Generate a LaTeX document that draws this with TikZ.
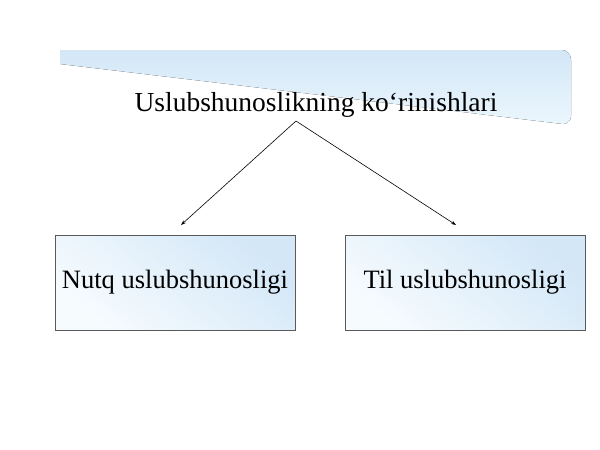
\documentclass[tikz,border=0pt]{standalone}
\usepackage{fontspec}
\setmainfont{Liberation Serif}
\usetikzlibrary{arrows.meta}
\definecolor{paleblue}{HTML}{D3E7F7}
\definecolor{skyblue}{HTML}{DDF0FC}
\definecolor{boxedge}{HTML}{5A5A5A}

\begin{document}
\begin{tikzpicture}[x=1pt,y=-1pt,
  box/.style={draw=boxedge, line width=0.8pt, minimum width=240pt, minimum height=95pt,
    shading=axis, top color=paleblue, middle color=skyblue, bottom color=skyblue!25!white,
    shading angle=-40, font=\fontsize{26.5}{30}\selectfont},
  link/.style={line width=0.6pt, -{Stealth[length=5pt,width=3.5pt]}}]
%canvas
\useasboundingbox[fill=white] (0,0) rectangle (600,450);

%banner behind the title
\fill[top color=paleblue, bottom color=skyblue!60!white]
  (60,50) -- (562,50) to[out=0,in=90] (571,60) -- (571,116) to[out=-90,in=0] (563,124)
  -- (60,64) -- cycle;

%title and the two kinds
\node (title) at (316,105) {\fontsize{27.5}{32}\selectfont Uslubshunoslikning ko‘rinishlari};
\node[box] (nutq) at (175,282.5) {Nutq uslubshunosligi};
\node[box] (til) at (465,282.5) {Til uslubshunosligi};

%arrows
\coordinate (apex) at (296,121);
\coordinate (nutqtip) at (181,225);
\coordinate (tiltip) at (456,225);
\draw[link] (apex) -- (nutqtip);
\draw[link] (apex) -- (tiltip);
\end{tikzpicture}
\end{document}
